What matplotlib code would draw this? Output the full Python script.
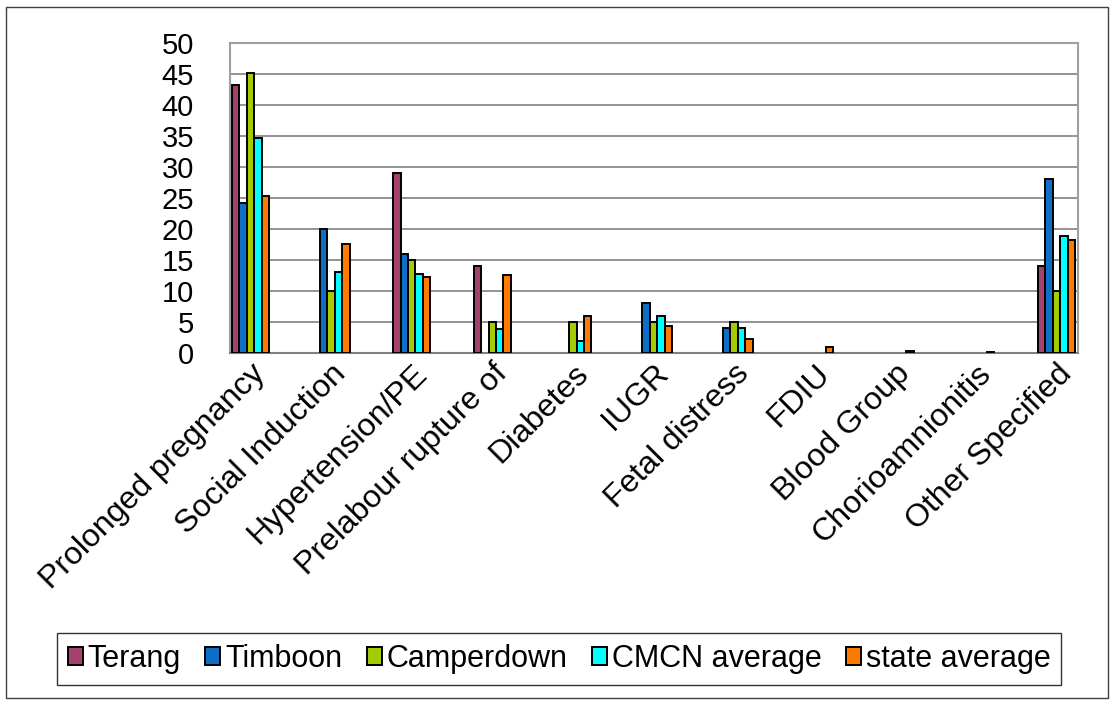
import numpy as np
import matplotlib
matplotlib.use("Agg")
import matplotlib.pyplot as plt
from matplotlib.patches import Rectangle

plt.rcParams['font.family'] = ['Liberation Sans', 'DejaVu Sans']

categories = ["Prolonged pregnancy", "Social Induction", "Hypertension/PE",
              "Prelabour rupture of", "Diabetes", "IUGR", "Fetal distress",
              "FDIU", "Blood Group", "Chorioamnionitis", "Other Specified"]

terang     = [43.2, 0.0, 29.0, 14.0, 0.0, 0.0, 0.0, 0.0, 0.0, 0.0, 14.0]
timboon    = [24.2, 20.0, 15.9, 0.0, 0.0, 8.1, 4.1, 0.0, 0.0, 0.0, 28.0]
camperdown = [45.2, 10.0, 15.0, 5.0, 5.0, 5.0, 5.0, 0.0, 0.0, 0.0, 10.0]
cmcn_avg   = [34.7, 13.0, 12.8, 3.9, 2.0, 6.0, 4.1, 0.0, 0.0, 0.0, 18.9]
state_avg  = [25.4, 17.6, 12.3, 12.6, 5.9, 4.3, 2.3, 1.0, 0.3, 0.2, 18.2]

series = [("Terang", terang, "#A4426E"),
          ("Timboon", timboon, "#0F6FC6"),
          ("Camperdown", camperdown, "#A5CC00"),
          ("CMCN average", cmcn_avg, "#00FFFF"),
          ("state average", state_avg, "#FF7A00")]

fig = plt.figure(figsize=(11.13, 7.04), dpi=100)
W, H = 1113, 704
ax = fig.add_axes([230 / W, 1 - 353 / H, (1078 - 230) / W, (353 - 43) / H])

x = np.arange(len(categories))
bw = 0.092
for k, (name, vals, col) in enumerate(series):
    bars = ax.bar(x + (k - 2) * bw, vals, width=bw, color=col, edgecolor="black",
                  linewidth=1.4, label=name, zorder=3)
    # empty categories show nothing in the original
    for b, v in zip(bars, vals):
        if v == 0:
            b.set_visible(False)

ax.set_xlim(-0.254, 10.267)
ax.set_ylim(0, 50)
ax.set_yticks(range(0, 51, 5))
ax.yaxis.grid(True, color="#808080", linewidth=1.2, zorder=0)
ax.tick_params(axis="y", length=0, labelsize=21, pad=26)
ax.tick_params(axis="x", length=0, labelsize=23, pad=4)
ax.set_xticks(x)
ax.set_xticklabels(categories, rotation=45, ha="right", rotation_mode="anchor")
for s in ["top", "right", "left"]:
    ax.spines[s].set_color("#A0A0A0")
    ax.spines[s].set_linewidth(1.5)
ax.spines["bottom"].set_color("#808080")
ax.spines["bottom"].set_linewidth(1.5)

leg = fig.legend(loc="center", bbox_to_anchor=(559 / W, 1 - 659 / H), ncol=5,
                 fontsize=22, frameon=True, fancybox=False, handlelength=0.5,
                 handleheight=0.5, handletextpad=0.15, columnspacing=0.8,
                 borderpad=0.35, edgecolor="black")
leg.get_frame().set_linewidth(1.0)

fig.patches.append(Rectangle((6 / W, 1 - 698 / H), (1108 - 6) / W, (698 - 7) / H,
                             transform=fig.transFigure, fill=False,
                             edgecolor="#404040", linewidth=1.0))

fig.savefig("out.png", dpi=100)
